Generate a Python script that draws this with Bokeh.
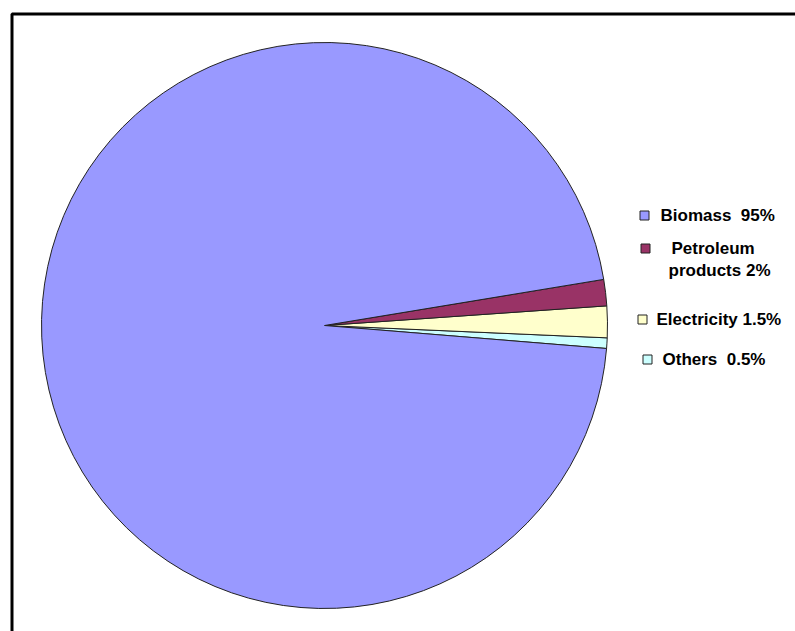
import math
from bokeh.plotting import figure
from bokeh.models import BoxAnnotation, Range1d, ColumnDataSource
from bokeh.core.properties import value
from bokeh.embed import file_html
from bokeh.resources import INLINE

# ---- data ----
categories = ["Biomass", "Petroleum products", "Electricity", "Others"]
NB = "\u00a0"
legend_lines = [["Biomass" + NB + NB + "95%"], ["Petroleum", "products 2%"],
                ["Electricity 1.5%"], ["Others" + NB + NB + "0.5%"]]
# slice shares as drawn in the picture (percent)
shares = [96.1, 1.5, 1.8, 0.6]
colors = ["#9999FF", "#993366", "#FFFFCC", "#CCFFFF"]

W, H = 795, 631
p = figure(width=W, height=H, output_backend="svg", toolbar_location=None,
           x_range=Range1d(0, W), y_range=Range1d(0, H), min_border=0)
p.axis.visible = False
p.grid.visible = False
p.outline_line_color = None
p.background_fill_color = "white"
p.border_fill_color = "white"

def sy(y):
    return H - y

# pie: counter-clockwise from the "Others" slice start
cx, cy, r = 324, sy(325), 283
start0 = math.radians(-4.66)
order = [3, 2, 1, 0]
total = sum(shares)
starts, ends, cols = [], [], []
a = start0
for i in order:
    da = shares[i] / total * 2 * math.pi
    starts.append(a)
    ends.append(a + da)
    cols.append(colors[i])
    a += da
src = ColumnDataSource(dict(x=[cx] * 4, y=[cy] * 4, s=starts, e=ends, c=cols))
p.wedge(x="x", y="y", radius=r, start_angle="s", end_angle="e", fill_color="c",
        line_color="#222222", line_width=1, source=src)

# legend (manual layout)
sq_x = [644, 645, 642, 647]
sq_y = [215, 248, 319, 359]
txt_x = [[660], [671, 668], [656], [662]]
txt_y = [[215], [248, 270], [319], [359]]
p.scatter(x=sq_x, y=[sy(v) for v in sq_y], marker="square", size=9,
          fill_color=colors, line_color="#222222", line_width=1)
tx, ty, tt = [], [], []
for k in range(4):
    for j, line in enumerate(legend_lines[k]):
        tx.append(txt_x[k][j]); ty.append(sy(txt_y[k][j])); tt.append(line)
p.text(x=tx, y=ty, text=tt, text_font=value("Liberation Sans"), text_font_size="17px",
       text_font_style="bold", text_baseline="middle", text_align="left", text_color="#000000")

# frame (chart area border)
p.add_layout(BoxAnnotation(left=11.5, right=W + 20, top=H - 13.5, bottom=-20,
                           fill_alpha=0, line_color="black", line_alpha=1.0, line_width=3))

open("out.html", "w").write(file_html(p, INLINE))
